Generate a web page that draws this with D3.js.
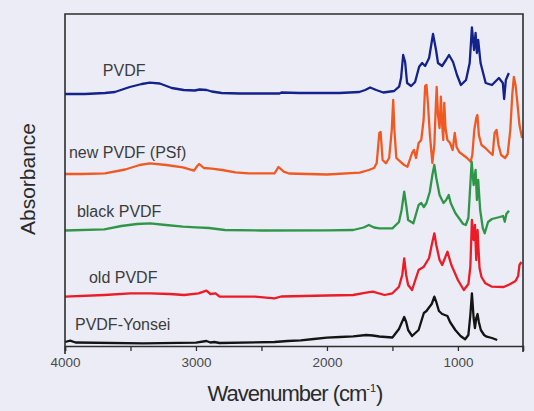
<!DOCTYPE html>
<html>
<head>
<meta charset="utf-8">
<script src="https://cdn.jsdelivr.net/npm/d3@7"></script>
<style>
  html, body { margin: 0; padding: 0; background: #ebecf6; }
  svg { display: block; font-family: "Liberation Sans", Arial, sans-serif; }
</style>
</head>
<body>
<div id="container"></div>
<script>
const width = 534;
const height = 411;

// spectra: [wavenumber (cm-1), absorbance above own baseline]
const pvdf = [
  [4000, 0], [3848, 0], [3695, 0.01], [3619, 0.02], [3505, 0.07], [3414, 0.10], [3353, 0.113],
  [3276, 0.105], [3185, 0.06], [3094, 0.04], [3010, 0.035], [2972, 0.045], [2918, 0.04],
  [2880, 0.025], [2804, 0.01], [2667, 0.005], [2362, 0.005], [2347, 0.015], [2210, 0.01],
  [1906, 0.01], [1753, 0.02], [1708, 0.04], [1670, 0.065], [1624, 0.04], [1570, 0.015],
  [1487, 0.03], [1449, 0.073], [1434, 0.16], [1418, 0.39], [1403, 0.32], [1388, 0.11],
  [1357, 0.08], [1327, 0.12], [1296, 0.273], [1273, 0.31], [1250, 0.28], [1220, 0.36],
  [1190, 0.60], [1167, 0.44], [1152, 0.31], [1121, 0.28], [1091, 0.34], [1068, 0.39],
  [1037, 0.32], [1007, 0.19], [977, 0.09], [938, 0.14], [910, 0.31], [893, 0.667],
  [877, 0.44], [865, 0.61], [855, 0.41], [845, 0.54], [827, 0.31], [788, 0.11],
  [740, 0.09], [687, 0.16], [657, 0.11], [647, -0.05], [634, 0.14], [611, 0.21]
];

const newPvdf = [
  [4000, 0], [3870, 0], [3695, 0.007], [3540, 0.045], [3430, 0.09], [3353, 0.107], [3226, 0.09],
  [3100, 0.067], [3015, 0.033], [2990, 0.08], [2975, 0.10], [2940, 0.06], [2880, 0.053],
  [2800, 0.04], [2700, 0.017], [2600, 0.007], [2400, 0.007], [2370, 0.07], [2330, 0.023],
  [2290, 0.005], [2000, -0.005], [1750, 0.013], [1680, 0.04], [1640, 0.06], [1620, 0.11],
  [1600, 0.41], [1590, 0.42], [1575, 0.14], [1550, 0.107], [1525, 0.16], [1505, 0.44],
  [1494, 0.74], [1485, 0.44], [1470, 0.16], [1440, 0.123], [1410, 0.09], [1385, 0.073],
  [1350, 0.21], [1335, 0.24], [1320, 0.16], [1300, 0.31], [1280, 0.34], [1262, 0.54],
  [1250, 0.88], [1240, 0.89], [1228, 0.69], [1215, 0.41], [1195, 0.11], [1180, 0.29],
  [1170, 0.64], [1162, 0.87], [1152, 0.59], [1140, 0.46], [1130, 0.773], [1120, 0.49],
  [1112, 0.34], [1104, 0.71], [1095, 0.46], [1080, 0.34], [1060, 0.31], [1040, 0.24],
  [1024, 0.41], [1010, 0.27], [990, 0.22], [960, 0.19], [930, 0.16], [903, 0.123],
  [890, 0.19], [875, 0.44], [860, 0.56], [851, 0.59], [840, 0.39], [820, 0.29], [790, 0.26],
  [760, 0.22], [735, 0.19], [720, 0.41], [705, 0.44], [690, 0.29], [670, 0.19], [640, 0.16],
  [620, 0.20], [600, 0.44], [585, 0.79], [573, 0.97], [560, 0.89], [548, 0.74], [530, 0.49],
  [510, 0.36]
];

const blackPvdf = [
  [4000, 0], [3700, 0.012], [3570, 0.045], [3450, 0.065], [3350, 0.072], [3230, 0.055],
  [3100, 0.038], [3000, 0.032], [2900, 0.025], [2780, 0.005], [2500, 0], [2000, 0.002],
  [1800, 0.005], [1720, 0.03], [1680, 0.055], [1640, 0.03], [1600, 0.022], [1500, 0.022],
  [1450, 0.085], [1430, 0.205], [1410, 0.388], [1395, 0.255], [1380, 0.105], [1340, 0.072],
  [1300, 0.255], [1280, 0.275], [1260, 0.235], [1240, 0.275], [1215, 0.385], [1195, 0.555],
  [1180, 0.655], [1165, 0.525], [1140, 0.355], [1110, 0.275], [1090, 0.305], [1070, 0.355],
  [1055, 0.275], [1020, 0.175], [960, 0.065], [940, 0.055], [920, 0.125], [895, 0.688],
  [880, 0.455], [865, 0.605], [855, 0.305], [845, 0.505], [830, 0.205], [810, 0.025],
  [795, -0.028], [770, 0.085], [740, 0.115], [680, 0.135], [655, 0.145], [642, 0.088],
  [630, 0.165], [610, 0.198]
];

const oldPvdf = [
  [4000, 0], [3700, 0.017], [3500, 0.034], [3350, 0.034], [3200, 0.027], [3090, 0.017],
  [2980, 0.034], [2920, 0.06], [2890, 0.027], [2850, 0.034], [2820, 0], [2550, 0],
  [2400, -0.016], [2350, 0.002], [2000, 0.012], [1800, 0.017], [1700, 0.04], [1650, 0.05],
  [1560, 0.017], [1500, 0.034], [1450, 0.10], [1425, 0.217], [1410, 0.384], [1395, 0.217],
  [1380, 0.117], [1350, 0.067], [1300, 0.267], [1260, 0.30], [1220, 0.387], [1200, 0.517],
  [1180, 0.634], [1165, 0.517], [1140, 0.367], [1120, 0.317], [1080, 0.45], [1050, 0.317],
  [1000, 0.167], [955, 0.067], [920, 0.127], [905, 0.30], [893, 0.767], [880, 0.567],
  [870, 0.717], [860, 0.367], [850, 0.667], [835, 0.287], [820, 0.197], [790, 0.134],
  [740, 0.10], [650, 0.097], [600, 0.127], [560, 0.157], [540, 0.207], [530, 0.317],
  [515, 0.347]
];

const yonsei = [
  [4000, 0.005], [3960, 0.018], [3920, 0], [3400, -0.008], [3000, -0.002], [2920, 0.015],
  [2890, 0], [2860, 0.005], [2820, -0.005], [2400, 0.005], [2300, 0.015], [2200, 0.022],
  [2100, 0.035], [2000, 0.048], [1900, 0.055], [1800, 0.062], [1700, 0.075], [1650, 0.07],
  [1600, 0.06], [1500, 0.05], [1450, 0.135], [1410, 0.255], [1395, 0.205], [1380, 0.125],
  [1350, 0.065], [1300, 0.125], [1260, 0.295], [1240, 0.315], [1225, 0.342], [1200, 0.385],
  [1180, 0.458], [1165, 0.405], [1145, 0.315], [1120, 0.285], [1080, 0.265], [1060, 0.205],
  [1020, 0.125], [980, 0.065], [945, 0.032], [920, 0.075], [905, 0.275], [893, 0.492],
  [880, 0.245], [870, 0.145], [860, 0.245], [850, 0.285], [840, 0.205], [825, 0.125],
  [800, 0.075], [780, 0.058], [740, 0.045], [700, 0.025]
];

const seriesNames = ["PVDF", "new PVDF (PSf)", "black PVDF", "old PVDF", "PVDF-Yonsei"];
const seriesData = [pvdf, newPvdf, blackPvdf, oldPvdf, yonsei];
const offsets = [2.52, 1.72, 1.155, 0.493, 0.035];
const colors = ["#14228c", "#f05a22", "#2f9648", "#ec1c26", "#141414"];
// where each name sits: [wavenumber, absorbance]
const labelAt = [[3711, 2.70], [3970, 1.88], [3909, 1.29], [3817, 0.63], [3924, 0.16]];

const xTicks = [4000, 3000, 2000, 1000];
const xMinorTicks = [3500, 2500, 1500];

const margin = { top: 14, right: 11, bottom: 65, left: 65 };

const svg = d3.select("#container")
  .append("svg")
  .attr("width", width)
  .attr("height", height);

svg.append("rect")
  .attr("width", width)
  .attr("height", height)
  .attr("fill", "#ebecf6");

const x = d3.scaleLinear()
  .domain([4000, 503])
  .range([margin.left, width - margin.right]);

const y = d3.scaleLinear()
  .domain([0, 3.32])
  .range([height - margin.bottom, margin.top]);

const line = d3.line()
  .x(d => x(d[0]))
  .y(d => y(d[1]));

// === Spectra ===
svg.append("g")
  .selectAll("path")
  .data(seriesData)
  .join("path")
  .attr("fill", "none")
  .attr("stroke", (d, i) => colors[i])
  .attr("stroke-width", 2.3)
  .attr("stroke-linejoin", "round")
  .attr("d", (d, i) => line(d.map(p => [p[0], p[1] + offsets[i]])));

// === Names ===
svg.append("g")
  .selectAll("text")
  .data(seriesNames)
  .join("text")
  .attr("x", (d, i) => x(labelAt[i][0]))
  .attr("y", (d, i) => y(labelAt[i][1]))
  .attr("fill", "#3c3c3c")
  .style("font-size", "16px")
  .text(d => d);

// === Frame and axis ===
const x0 = x.range()[0], x1 = x.range()[1];
const yTop = y.range()[1], yBot = y.range()[0];

svg.append("path")
  .attr("d", `M${x0},${yBot + 8}V${yTop}H${x1}V${yBot + 6}`)
  .attr("fill", "none")
  .attr("stroke", "#2e2e2e")
  .attr("stroke-width", 1.6);

const axis = svg.append("g")
  .attr("transform", `translate(0,${yBot})`)
  .call(d3.axisBottom(x).tickValues(xTicks.concat(xMinorTicks)).tickSize(5).tickFormat(d => xTicks.includes(d) ? d : ""));

axis.select(".domain").attr("stroke", "#2e2e2e").attr("stroke-width", 1.6);
axis.selectAll(".tick line").attr("stroke", "#2e2e2e").attr("stroke-width", 1.3);
axis.selectAll(".tick text")
  .attr("fill", "#4a4a4a")
  .attr("dy", "0.71em")
  .attr("y", 11)
  .style("font-size", "13.5px")
  .style("font-family", "\"Liberation Sans\", Arial, sans-serif");

// === Axis titles ===
const xTitle = svg.append("text")
  .attr("x", 295)
  .attr("y", 401)
  .attr("text-anchor", "middle")
  .attr("fill", "#2a2a2a")
  .style("font-size", "22px")
  .style("letter-spacing", "-1px");
xTitle.append("tspan").text("Wavenumber (cm");
xTitle.append("tspan").attr("dy", -9).style("font-size", "11px").style("letter-spacing", "0px").text("-1");
xTitle.append("tspan").attr("dy", 9).text(")");

svg.append("text")
  .attr("transform", `translate(35,179) rotate(-90)`)
  .attr("text-anchor", "middle")
  .attr("fill", "#2a2a2a")
  .style("font-size", "21px")
  .text("Absorbance");
</script>
</body>
</html>
